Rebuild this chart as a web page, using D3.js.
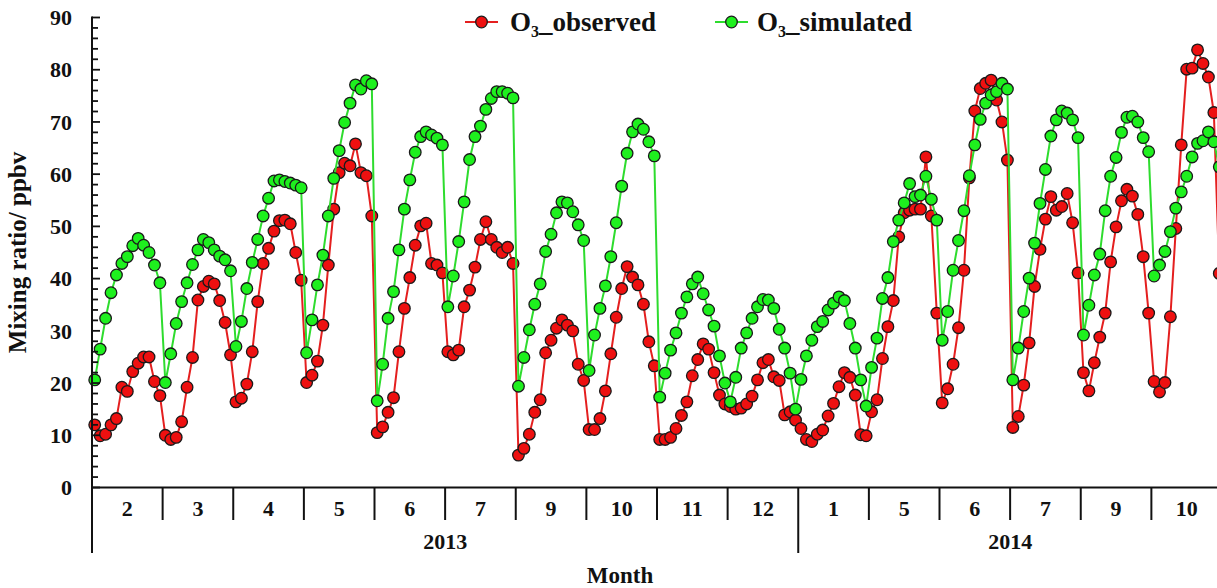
<!DOCTYPE html>
<html>
<head>
<meta charset="utf-8">
<script src="https://cdn.jsdelivr.net/npm/d3@7"></script>
<style>
  html, body { margin: 0; padding: 0; background: #fff; }
  svg text { font-family: "Liberation Serif", "Times New Roman", serif; font-weight: bold; fill: #111; }
</style>
</head>
<body>
<svg id="chart" width="1217" height="588"></svg>
<script>
// Month categories along the x axis (13 diurnal samples per month)
const months = ["2", "3", "4", "5", "6", "7", "9", "10", "11", "12", "1", "5", "6", "7", "9", "10"];
const yearGroups = [
  { label: "2013", first: 0, last: 9 },
  { label: "2014", first: 10, last: 15 }
];
const yTicks = [0, 10, 20, 30, 40, 50, 60, 70, 80, 90];

// Observed O3 mixing ratio (ppbv), one row per month
const observed = [
  [12.0, 9.9, 10.2, 12.0, 13.2, 19.2, 18.4, 22.2, 23.8, 25.0, 25.0, 20.3, 17.6],
  [10.0, 9.2, 9.6, 12.6, 19.2, 24.9, 35.9, 38.5, 39.5, 39.0, 35.8, 31.6, 25.4],
  [16.4, 17.1, 19.8, 26.0, 35.6, 42.9, 45.8, 49.1, 51.1, 51.2, 50.5, 45.0, 39.7],
  [20.1, 21.5, 24.2, 31.1, 42.6, 53.3, 60.3, 62.1, 61.6, 65.8, 60.3, 59.7, 52.0],
  [10.5, 11.6, 14.4, 17.2, 26.0, 34.3, 40.2, 46.4, 50.1, 50.6, 42.9, 42.6, 41.1],
  [26.0, 25.4, 26.3, 34.6, 37.8, 42.2, 47.5, 50.9, 47.5, 46.0, 45.0, 46.0, 42.9],
  [6.2, 7.5, 10.2, 14.4, 16.8, 25.8, 28.2, 30.5, 32.1, 31.1, 30.0, 23.6, 20.5],
  [11.1, 11.1, 13.2, 18.5, 25.6, 32.6, 38.1, 42.3, 40.3, 38.8, 35.1, 27.9, 23.3],
  [9.2, 9.2, 9.6, 11.3, 13.8, 16.4, 21.4, 24.5, 27.5, 26.5, 22.0, 17.7, 16.0],
  [15.5, 15.0, 15.2, 16.0, 17.5, 20.6, 23.9, 24.5, 21.2, 20.5, 13.9, 14.5, 12.9],
  [11.3, 9.2, 8.8, 10.2, 11.0, 13.7, 16.1, 19.3, 22.0, 21.1, 17.7, 10.1, 9.9],
  [14.5, 16.8, 24.7, 30.8, 35.8, 48.0, 52.6, 53.1, 53.3, 53.3, 63.3, 52.0, 33.4],
  [16.2, 18.9, 23.6, 30.6, 41.6, 59.3, 72.1, 76.4, 77.4, 78.0, 74.2, 70.0, 62.7],
  [11.5, 13.6, 19.6, 27.7, 38.5, 45.6, 51.4, 55.7, 53.1, 53.8, 56.3, 50.7, 41.1],
  [22.0, 18.5, 23.9, 28.8, 33.4, 43.2, 49.9, 54.9, 57.1, 55.8, 52.3, 44.2, 33.4],
  [20.3, 18.3, 20.1, 32.7, 49.6, 65.6, 80.1, 80.3, 83.8, 81.2, 78.6, 71.8, 41.0]
];

// Simulated O3 mixing ratio (ppbv), one row per month
const simulated = [
  [20.6, 26.5, 32.4, 37.3, 40.7, 42.9, 44.2, 46.3, 47.7, 46.4, 45.0, 42.6, 39.2],
  [20.1, 25.6, 31.4, 35.6, 39.2, 42.7, 45.5, 47.5, 46.9, 45.5, 44.3, 43.6, 41.5],
  [27.0, 31.8, 38.1, 43.1, 47.5, 52.0, 55.4, 58.7, 58.9, 58.6, 58.3, 57.9, 57.4],
  [25.8, 32.1, 38.8, 44.5, 52.0, 59.2, 64.5, 69.9, 73.6, 77.1, 76.3, 77.9, 77.3],
  [16.6, 23.6, 32.4, 37.5, 45.5, 53.3, 58.9, 64.2, 67.2, 68.1, 67.5, 66.9, 65.6],
  [34.6, 40.5, 47.1, 54.7, 62.8, 67.2, 69.2, 72.4, 74.5, 75.8, 75.8, 75.5, 74.6],
  [19.4, 24.9, 30.2, 35.1, 39.0, 45.2, 48.5, 52.6, 54.7, 54.5, 52.8, 50.3, 47.3],
  [22.4, 29.2, 34.3, 38.6, 44.2, 50.7, 57.7, 64.0, 68.1, 69.6, 68.6, 66.2, 63.5],
  [17.3, 21.9, 26.3, 29.6, 33.4, 36.5, 39.0, 40.3, 37.1, 34.0, 30.9, 25.2, 20.0],
  [16.4, 21.1, 26.7, 29.6, 32.4, 34.6, 36.0, 35.9, 34.3, 30.3, 26.7, 21.9, 15.0],
  [20.7, 25.2, 28.2, 30.8, 31.8, 34.0, 35.3, 36.5, 35.8, 31.4, 26.7, 20.6, 15.6],
  [23.0, 28.6, 36.2, 40.2, 47.1, 51.2, 54.5, 58.2, 55.7, 56.0, 59.6, 55.2, 51.2],
  [28.2, 33.7, 41.6, 47.3, 53.0, 59.7, 65.6, 70.5, 73.6, 75.2, 75.8, 77.4, 76.3],
  [20.6, 26.7, 33.7, 40.1, 46.8, 54.4, 60.9, 67.3, 70.4, 72.1, 71.7, 70.4, 67.0],
  [29.2, 34.9, 40.7, 44.7, 53.0, 59.6, 63.2, 68.0, 70.9, 71.1, 70.0, 67.0, 64.3],
  [40.5, 42.6, 45.2, 49.0, 53.5, 56.6, 59.6, 63.3, 65.9, 66.4, 68.1, 66.2, 61.4]
];

const svg = d3.select("#chart");
const W = 1217, H = 588;
const plotLeft = 92, plotRight = 1222, plotTop = 17.5, plotBottom = 487.5;

const x = d3.scaleBand().domain(d3.range(months.length)).range([plotLeft, plotRight]).padding(0);
const y = d3.scaleLinear().domain([0, 90]).range([plotBottom, plotTop]);
const perMonth = observed[0].length;
const sub = d3.scaleBand().domain(d3.range(perMonth)).range([0, x.bandwidth()]);
const px = (m, i) => x(m) + sub(i) + sub.bandwidth() / 2;

function flatten(rows) {
  const out = [];
  rows.forEach((row, m) => row.forEach((v, i) => out.push({ m, i, v })));
  return out;
}
const obsPts = flatten(observed);
const simPts = flatten(simulated);

const line = d3.line().x(d => px(d.m, d.i)).y(d => y(d.v));

const series = [
  { pts: obsPts, stroke: "#e41f1f", fill: "#ee1010" },
  { pts: simPts, stroke: "#2edc2e", fill: "#1ef01e" }
];

const plot = svg.append("g");
series.forEach(s => {
  plot.append("path").datum(s.pts)
    .attr("fill", "none").attr("stroke", s.stroke).attr("stroke-width", 2)
    .attr("d", line);
  plot.append("g").selectAll("circle").data(s.pts).join("circle")
    .attr("cx", d => px(d.m, d.i)).attr("cy", d => y(d.v)).attr("r", 5.8)
    .attr("fill", s.fill).attr("stroke", "#1a1a1a").attr("stroke-width", 1.3);
});

// Y axis with major and minor inward ticks
const axisColor = "#111";
const yg = svg.append("g");
yg.append("line").attr("x1", plotLeft).attr("x2", plotLeft).attr("y1", plotTop - 1).attr("y2", 553)
  .attr("stroke", axisColor).attr("stroke-width", 2);
const minor = d3.range(0, 91, 2);
yg.selectAll("line.tk").data(minor).join("line").attr("class", "tk")
  .attr("x1", plotLeft).attr("x2", d => plotLeft + (d % 10 === 0 ? 8 : 6))
  .attr("y1", d => y(d)).attr("y2", d => y(d))
  .attr("stroke", axisColor).attr("stroke-width", 1.8);
yg.selectAll("text").data(yTicks).join("text")
  .attr("x", 72).attr("y", d => y(d)).attr("dy", "0.35em")
  .attr("text-anchor", "end").attr("font-size", 22).text(d => d);

svg.append("text")
  .attr("transform", `translate(26,${(plotTop + plotBottom) / 2}) rotate(-90)`)
  .attr("text-anchor", "middle").attr("font-size", 25)
  .text("Mixing ratio/ ppbv");

// X axis: months grouped by year
const xg = svg.append("g");
xg.append("line").attr("x1", plotLeft).attr("x2", W).attr("y1", plotBottom).attr("y2", plotBottom)
  .attr("stroke", axisColor).attr("stroke-width", 2);
const bounds = d3.range(1, months.length + 1);
xg.selectAll("line.mb").data(bounds).join("line").attr("class", "mb")
  .attr("x1", d => x(d - 1) + x.bandwidth()).attr("x2", d => x(d - 1) + x.bandwidth())
  .attr("y1", plotBottom).attr("y2", d => (yearGroups.some(g => g.first === d) || d === months.length) ? 553 : 520)
  .attr("stroke", axisColor).attr("stroke-width", 2);
xg.selectAll("text.ml").data(months).join("text").attr("class", "ml")
  .attr("x", (d, i) => x(i) + x.bandwidth() / 2).attr("y", 516)
  .attr("text-anchor", "middle").attr("font-size", 22).text(d => d);
xg.selectAll("text.yl").data(yearGroups).join("text").attr("class", "yl")
  .attr("x", d => (x(d.first) + x(d.last) + x.bandwidth()) / 2).attr("y", 549)
  .attr("text-anchor", "middle").attr("font-size", 22).text(d => d.label);
svg.append("text").attr("x", 620).attr("y", 583).attr("text-anchor", "middle")
  .attr("font-size", 23).text("Month");

// Legend
const legend = [
  { x0: 465, tx: 510, name: "observed", s: series[0] },
  { x0: 715, tx: 757, name: "simulated", s: series[1] }
];
legend.forEach(l => {
  const g = svg.append("g");
  g.append("line").attr("x1", l.x0).attr("x2", l.x0 + 33).attr("y1", 22).attr("y2", 22)
    .attr("stroke", l.s.stroke).attr("stroke-width", 2);
  g.append("circle").attr("cx", l.x0 + 16.5).attr("cy", 22).attr("r", 5.8)
    .attr("fill", l.s.fill).attr("stroke", "#1a1a1a").attr("stroke-width", 1.3);
  const t = g.append("text").attr("x", l.tx).attr("y", 31).attr("font-size", 27);
  t.append("tspan").text("O");
  t.append("tspan").attr("font-size", 16).attr("dy", 6).text("3");
  t.append("tspan").attr("dy", -6).text("_" + l.name);
});
</script>
</body>
</html>
